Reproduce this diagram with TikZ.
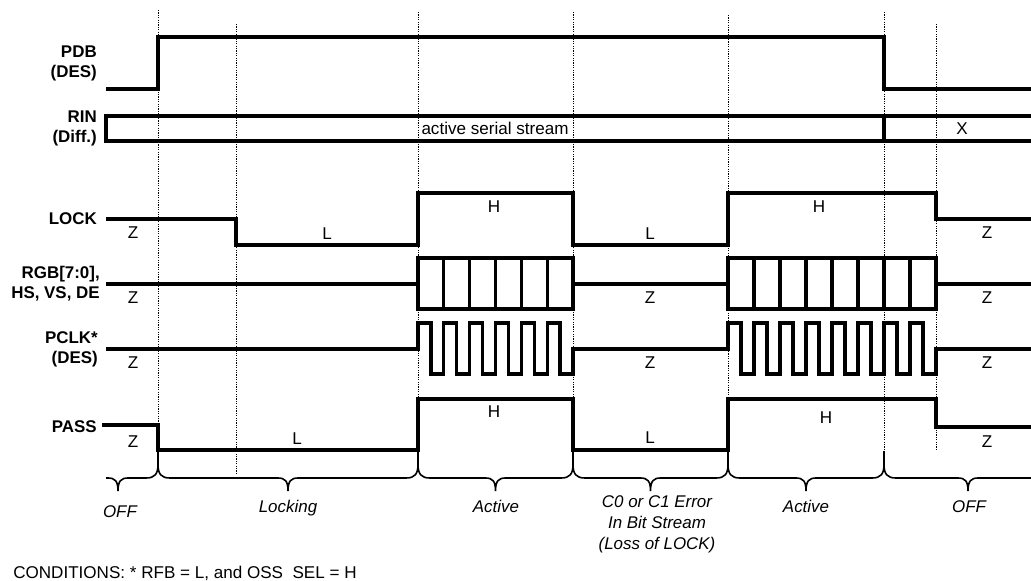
\documentclass[tikz,border=0pt]{standalone}
\usepackage{fontspec}
\setmainfont{Liberation Sans}
\usetikzlibrary{calc}
\tikzset{>=latex}
\tikzstyle{sigline}=[draw=black,line width=2.4pt,line join=miter]
\tikzstyle{dotline}=[draw=black,line width=0.75pt,dash pattern=on 0.9pt off 0.9pt]
\tikzstyle{braceline}=[draw=black,line width=1.2pt]
\tikzstyle{signame}=[font=\fontsize{12.7}{15}\selectfont\bfseries,align=right,anchor=east,inner sep=0pt]
\tikzstyle{lvltext}=[font=\fontsize{12.8}{15}\selectfont,inner sep=0pt]
\tikzstyle{phasetext}=[font=\fontsize{12.7}{15.75}\selectfont\itshape,align=center,inner sep=0pt]

\begin{document}
\begin{tikzpicture}[x=0.75pt,y=-0.75pt]
    \useasboundingbox (0,0) rectangle (1031,581);

    % time markers
    \foreach \x/\t/\b in {158/10/451, 236/24/475, 418/12/451, 573/12/451, 728/15/451, 884/12/451, 936/24/451}
    	\draw[dotline] (\x,\t) -- (\x,\b);

    % signal names
    \node[signame] (pdb) at (97,63) {PDB\\(DES)};
    \node[signame] (rin) at (97,128) {RIN\\(Diff.)};
    \node[signame] (lock) at (97,219) {LOCK};
    \node[signame] (rgb) at (100,284) {RGB[7:0],\\HS, VS, DE};
    \node[signame] (pclk) at (98,349) {PCLK*\\(DES)};
    \node[signame] (pass) at (97,427) {PASS};

    % PDB
    \draw[sigline] (106,89) -- (158,89) -- (158,37) -- (884,37) -- (884,89) -- (1031,89);
    % RIN
    \draw[sigline] (1031,116) -- (106,116) -- (106,141) -- (1031,141);
    \draw[sigline] (884,116) -- (884,141);
    \node[lvltext] (stream) at (495,128) {active serial stream};
    \node[lvltext] (rinx) at (962,129) {X};
    % LOCK
    \draw[sigline] (106,219) -- (236,219) -- (236,245) -- (418,245) -- (418,193) -- (573,193)
    	-- (573,245) -- (728,245) -- (728,193) -- (936,193) -- (936,219) -- (1031,219);
    % RGB, HS, VS, DE
    \draw[sigline] (106,284) -- (418,284);
    \draw[sigline] (418,258) rectangle (573,309);
    \foreach \i in {1,...,5}
    	\draw[sigline] ({418+\i*155/6},258) -- ++(0,51);
    \draw[sigline] (573,284) -- (728,284);
    \draw[sigline] (728,258) rectangle (936,309);
    \foreach \i in {1,...,7}
    	\draw[sigline] ({728+\i*26},258) -- ++(0,51);
    \draw[sigline] (936,284) -- (1031,284);
    % PCLK
    \draw[sigline] (106,349) -- (418,349) -- (418,323)
    	\foreach \i in {1,...,5}{ -- ++({155/12},0) -- ++(0,51) -- ++({155/12},0) -- ++(0,-51) }
    	-- ++({155/12},0) -- ++(0,51) -- (573,374) -- (573,349) -- (728,349) -- (728,323)
    	\foreach \i in {1,...,7}{ -- ++(13,0) -- ++(0,51) -- ++(13,0) -- ++(0,-51) }
    	-- ++(13,0) -- ++(0,51) -- (936,374) -- (936,349) -- (1031,349);
    % PASS
    \draw[sigline] (102,425) -- (158,425) -- (158,450) -- (418,450) -- (418,399) -- (573,399)
    	-- (573,450) -- (728,450) -- (728,399) -- (936,399) -- (936,427) -- (1031,427);

    % levels
    \foreach \x/\y/\t [count=\n] in {133/233/Z, 327/234/L, 494/207/H, 650/234/L, 819/207/H, 987/233/Z,
    	133/298/Z, 650/298/Z, 987/298/Z, 133/363/Z, 650/363/Z, 987/363/Z,
    	133/442/Z, 297/439/L, 494/412/H, 650/438/L, 826/418/H, 987/442/Z}
    	\node[lvltext] (lv\n) at (\x,\y) {\t};

    % braces
    \draw[braceline] (106,478) -- (108,478) .. controls (115,478) and (118,481) .. (118,491)
    	.. controls (118,481) and (121,478) .. (128,478) -- (146,478)
    	.. controls (155,478) and (158,474) .. (158,464) -- (158,451);
    \foreach \a/\m/\b in {158/288/418, 418/495.5/573, 573/650.5/728, 728/806/884}
    	\draw[braceline] (\a,451) -- (\a,464) .. controls (\a,474) and ({\a+3},478) .. ({\a+12},478)
    	-- ({\m-10},478) .. controls ({\m-3},478) and (\m,481) .. (\m,491)
    	.. controls (\m,481) and ({\m+3},478) .. ({\m+10},478) -- ({\b-12},478)
    	.. controls ({\b-3},478) and (\b,474) .. (\b,464) -- (\b,451);
    \draw[braceline] (884,451) -- (884,464) .. controls (884,474) and (887,478) .. (896,478)
    	-- (958,478) .. controls (965,478) and (968,481) .. (968,491)
    	.. controls (968,481) and (971,478) .. (978,478) -- (1031,478);

    % phases
    \node[phasetext,anchor=base] (off1) at (120,517) {OFF};
    \node[phasetext,anchor=base] (locking) at (288,512) {Locking};
    \node[phasetext,anchor=base] (active1) at (496,512) {Active};
    \node[phasetext] (error) at (657,524) {C0 or C1 Error\\In Bit Stream\\(Loss of LOCK)};
    \node[phasetext,anchor=base] (active2) at (806,512) {Active};
    \node[phasetext,anchor=base] (off2) at (969,512) {OFF};

    \node[lvltext,anchor=west] (cond) at (13,573) {CONDITIONS: * RFB = L, and OSS\ \ SEL = H};
\end{tikzpicture}
\end{document}
